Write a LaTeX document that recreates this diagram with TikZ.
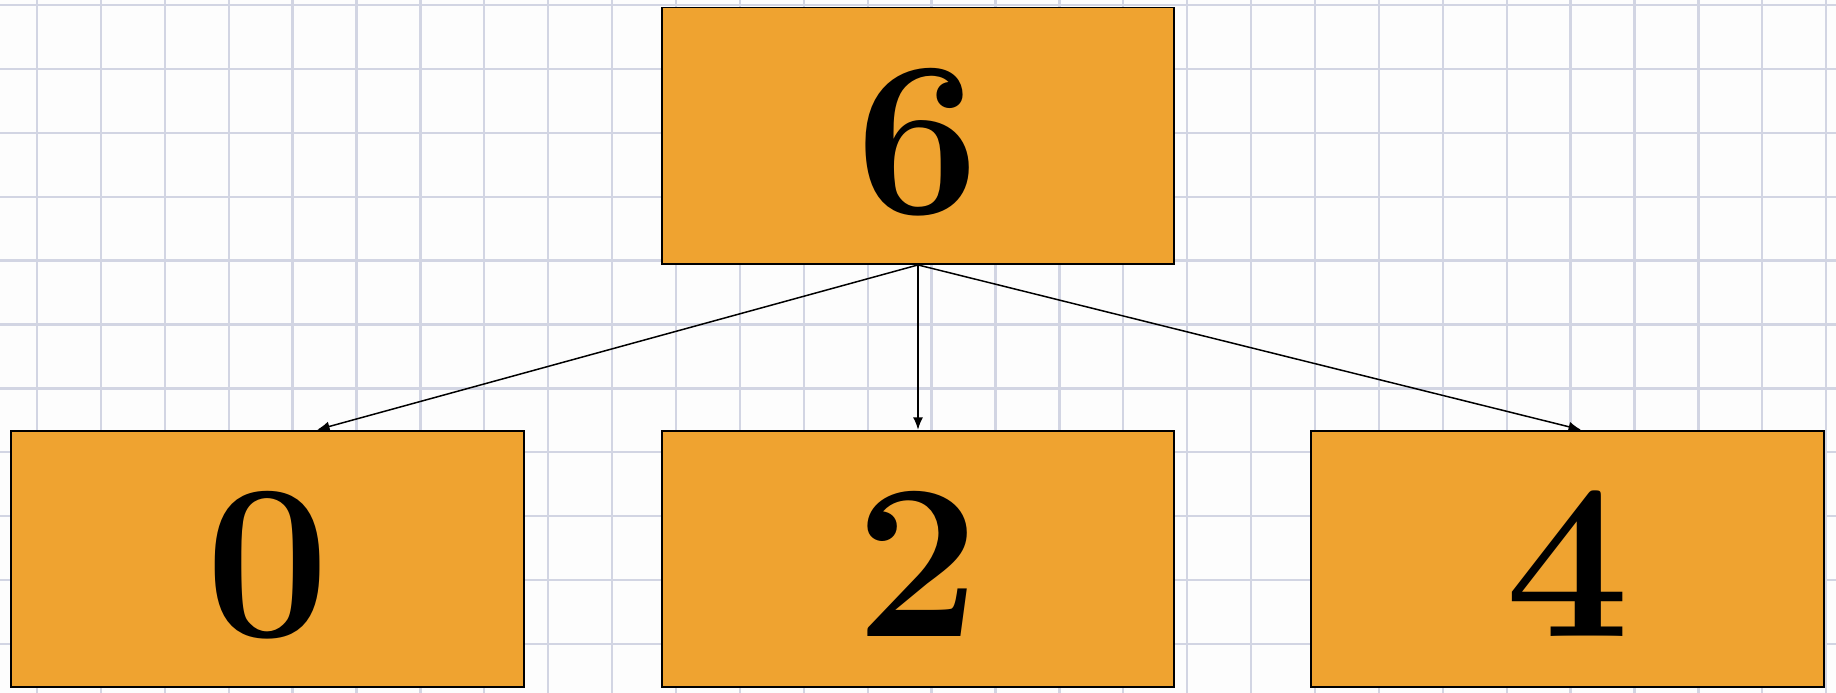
\documentclass[tikz,border=0pt]{standalone}
\usepackage{xcolor}
\definecolor{BoxOrange}{HTML}{EFA330}
\definecolor{GridLine}{HTML}{D2D5E3}
\definecolor{PaperBg}{HTML}{FDFDFD}
\usepackage{tikz}
\usetikzlibrary{arrows.meta,positioning}
\tikzset{
  numbox/.style={
    draw=black,
    fill=BoxOrange,
    line width=1.1pt,
    minimum width=10.26cm,
    minimum height=5.13cm,
    inner sep=0pt,
    text height=3.1cm,
    text depth=0cm,
    font=\fontsize{126pt}{126pt}\selectfont\bfseries
  },
  numline/.style={
    draw=black,
    -{Latex[length=2.5mm,width=2mm]},
    line width=0.85pt
  },
  gridline/.style={
    draw=GridLine,
    line width=1.3pt
  }
}

\begin{document}
\begin{tikzpicture}[x=0.02cm,y=0.02cm]
  \useasboundingbox (0,0) rectangle (1836,693);
  \fill[PaperBg] (0,0) rectangle (1836,693);
  % squared paper
  \foreach \i in {0,...,28}{\draw[gridline] ({37+63.9*\i},0) -- ++(0,693);}
  \foreach \j in {0,...,10}{\draw[gridline] (0,{688-63.9*\j}) -- ++(1836,0);}
  % boxes
  \node[numbox] (n6) at (918,557.25) {6};
  \node[numbox] (n0) at (267.5,134) {0};
  \node[numbox] (n2) at (918,134) {2};
  \node[numbox] (n4) at (1567.5,134) {4};
  \foreach \target/\ang in {n0/69.6,n2/90,n4/84}{\draw[numline] (n6.south) -- (\target.\ang);}
\end{tikzpicture}
\end{document}
